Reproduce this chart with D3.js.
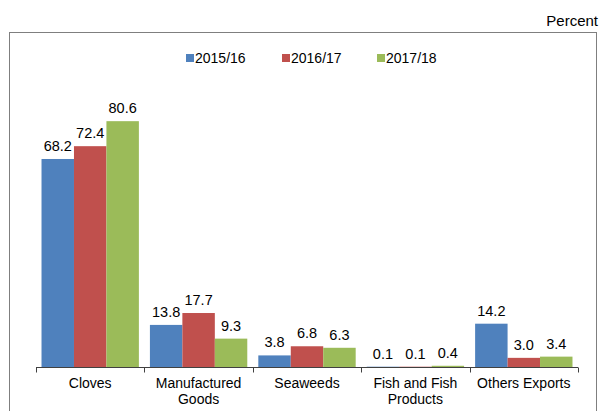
<!DOCTYPE html>
<html><head><meta charset="utf-8">
<script src="https://cdn.jsdelivr.net/npm/d3@7"></script>
<style>body{margin:0;background:#fff;}svg{display:block;font-family:"Liberation Sans",Arial,sans-serif;}</style>
</head><body>
<svg id="c" width="600" height="411"></svg>
<script>
const categories = [["Cloves"], ["Manufactured", "Goods"], ["Seaweeds"], ["Fish and Fish", "Products"], ["Others Exports"]];
const seriesNames = ["2015/16", "2016/17", "2017/18"];
const v2015 = [68.2, 13.8, 3.8, 0.1, 14.2];
const v2016 = [72.4, 17.7, 6.8, 0.1, 3.0];
const v2017 = [80.6, 9.3, 6.3, 0.4, 3.4];
const colors = ["#4F81BD", "#C0504D", "#9BBB59"];
const series = [v2015, v2016, v2017];

const svg = d3.select("#c");
svg.append("rect").attr("x", 9.5).attr("y", 32.5).attr("width", 587).attr("height", 390)
  .attr("fill", "none").attr("stroke", "#7f7f7f").attr("stroke-width", 1);
svg.append("text").attr("x", 598).attr("y", 26).attr("text-anchor", "end")
  .attr("font-size", 15).attr("fill", "#000").text("Percent");

const x0 = d3.scaleBand().domain(d3.range(categories.length)).range([36, 578]).paddingInner(0).paddingOuter(0);
const x1 = d3.scaleBand().domain(d3.range(series.length)).range([0, x0.bandwidth()]).paddingInner(0).paddingOuter(0.17);
const y = d3.scaleLinear().domain([0, 100]).range([367, 62]);

series.forEach((vals, si) => {
  const g = svg.append("g");
  g.selectAll("rect").data(vals).join("rect")
    .attr("x", (d, i) => x0(i) + x1(si))
    .attr("y", d => y(d))
    .attr("width", x1.bandwidth())
    .attr("height", d => y(0) - y(d))
    .attr("fill", colors[si]);
  g.selectAll("text").data(vals).join("text")
    .attr("x", (d, i) => x0(i) + x1(si) + x1.bandwidth() / 2)
    .attr("y", d => y(d) - 8)
    .attr("text-anchor", "middle").attr("font-size", 14.5).attr("fill", "#000")
    .text(d => d.toFixed(1));
});

// axis
const ax = svg.append("g").attr("transform", "translate(0,367.5)");
ax.append("line").attr("x1", 36).attr("x2", 578).attr("stroke", "#404040");
const tickPos = d3.range(categories.length + 1).map(i => i < categories.length ? x0(i) : x0.range()[1]);
ax.selectAll("line.t").data(tickPos).join("line").attr("class", "t")
  .attr("x1", d => Math.round(d) + 0.5).attr("x2", d => Math.round(d) + 0.5).attr("y1", 0).attr("y2", 5)
  .attr("stroke", "#404040");
categories.forEach((lines, i) => {
  const t = svg.append("text").attr("text-anchor", "middle").attr("font-size", 14).attr("fill", "#000");
  lines.forEach((ln, k) => {
    t.append("tspan").attr("x", x0(i) + x0.bandwidth() / 2).attr("y", 388 + k * 16).text(ln);
  });
});

// legend
const legX = [186, 282, 377];
const leg = svg.append("g");
seriesNames.forEach((n, i) => {
  leg.append("rect").attr("x", legX[i]).attr("y", 54).attr("width", 8).attr("height", 8).attr("fill", colors[i]);
  leg.append("text").attr("x", legX[i] + 9).attr("y", 63).attr("font-size", 14).attr("fill", "#000").text(n);
});
</script>
</body></html>
